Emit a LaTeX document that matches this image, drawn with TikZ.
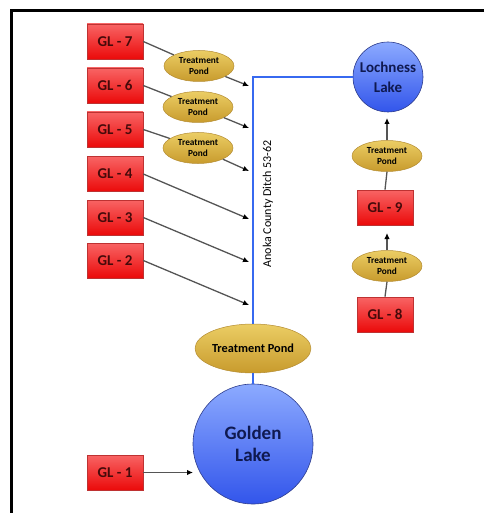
\documentclass[tikz,border=0pt]{standalone}
\usepackage{fontspec}
\setmainfont{Carlito}
\usetikzlibrary{arrows.meta,shapes.geometric}
\definecolor{glbord}{RGB}{190,50,50}
\definecolor{gltop}{RGB}{248,100,100}
\definecolor{glbot}{RGB}{235,10,10}
\definecolor{gltext}{RGB}{70,10,10}
\definecolor{pdtop}{RGB}{235,205,100}
\definecolor{pdbot}{RGB}{200,155,45}
\definecolor{pdbord}{RGB}{180,140,50}
\definecolor{lktop}{RGB}{140,170,255}
\definecolor{lkbot}{RGB}{50,85,235}
\definecolor{lkbord}{RGB}{45,60,140}
\definecolor{lktext}{RGB}{15,25,80}
\definecolor{ditch}{RGB}{55,105,240}
\definecolor{conn}{RGB}{85,85,85}
\tikzset{
  glbox/.style={rectangle, draw=glbord, line width=0.6pt, top color=gltop, bottom color=glbot,
    minimum width=56pt, minimum height=35pt, inner sep=0pt, text=gltext,
    font=\fontsize{15}{17}\selectfont\bfseries},
  pond/.style={ellipse, draw=pdbord, line width=0.5pt, top color=pdtop, bottom color=pdbot,
    minimum width=70pt, minimum height=31pt, inner sep=0pt, align=center,
    font=\fontsize{9.3}{11}\selectfont\bfseries},
  bigpond/.style={pond, minimum width=106pt, minimum height=49pt,
    font=\fontsize{12.3}{14}\selectfont\bfseries},
  lake/.style={circle, draw=lkbord, line width=0.6pt, top color=lktop, bottom color=lkbot,
    inner sep=0pt, align=center, text=lktext},
  link/.style={draw=conn, line width=1.3pt},
  flow/.style={link, -{Latex[color=black,length=6pt,width=5.5pt]}},
  ditchline/.style={draw=ditch, line width=2.6pt},
  frame/.style={line width=3pt, draw=black}
}
\begin{document}
\begin{tikzpicture}[x=1pt,y=-1pt]
\useasboundingbox (0,0) rectangle (484,513);
\draw[frame] (484,10.5) -- (11.5,10.5) -- (11.5,513);

% GL boxes left column
\node[glbox] (GL7) at (115,41.5) {GL - 7};
\node[glbox] (GL6) at (115,85.5) {GL - 6};
\node[glbox] (GL5) at (115,129.5) {GL - 5};
\node[glbox] (GL4) at (115,174) {GL - 4};
\node[glbox] (GL3) at (115,217.5) {GL - 3};
\node[glbox] (GL2) at (115,260.5) {GL - 2};
\node[glbox] (GL1) at (115,472.5) {GL - 1};

% small ponds
\node[pond] (P7) at (199,66) {Treatment\\Pond};
\node[pond] (P6) at (198,107) {Treatment\\Pond};
\node[pond] (P5) at (198,148) {Treatment\\Pond};

% ditch targets
\coordinate (T7) at (249,86);
\coordinate (T6) at (249,128);
\coordinate (T5) at (249,171);
\coordinate (T4) at (249,219);
\coordinate (T3) at (249,262);
\coordinate (T2) at (249,305);

% lakes and big pond
\node[lake, minimum size=70pt, font=\fontsize{15}{20}\selectfont\bfseries] (LL) at (388,77) {Lochness\\Lake};
\node[bigpond] (BP) at (253,348.5) {Treatment Pond};
\node[lake, minimum size=120pt, font=\fontsize{19}{22}\selectfont\bfseries] (GLK) at (253,444) {Golden\\Lake};
\coordinate (C) at (253,77);

% right column
\node[pond] (P9) at (387,156) {Treatment\\Pond};
\node[glbox] (GL9) at (385,207.5) {GL - 9};
\node[pond] (P8) at (387,266) {Treatment\\Pond};
\node[glbox] (GL8) at (385,314.5) {GL - 8};
\coordinate (T9) at (387,233);
\coordinate (TL) at (387,118);
\coordinate (T1) at (193,472.5);

% ditch
\draw[ditchline] (BP.north) -- (C) -- (LL.west);
\draw[ditchline] (BP.south) -- (GLK.north);
\node[rotate=90, font=\fontsize{12}{14}\selectfont] (DL) at (268,204) {Anoka County Ditch 53-62};

% connectors
\draw[link] (GL7.east) -- (P7);
\draw[link] (GL6.east) -- (P6);
\draw[link] (GL5.east) -- (P5);
\draw[flow] (P7) -- (T7);
\draw[flow] (P6) -- (T6);
\draw[flow] (P5) -- (T5);
\draw[flow] (GL4.east) -- (T4);
\draw[flow] (GL3.east) -- (T3);
\draw[flow] (GL2.east) -- (T2);
\draw[flow] (GL1.east) -- (T1);

\draw[link] (GL8.north) -- (P8.south);
\draw[flow] (P8.north) -- (T9);
\draw[link] (GL9.north) -- (P9.south);
\draw[flow] (P9.north) -- (TL);
\end{tikzpicture}
\end{document}
